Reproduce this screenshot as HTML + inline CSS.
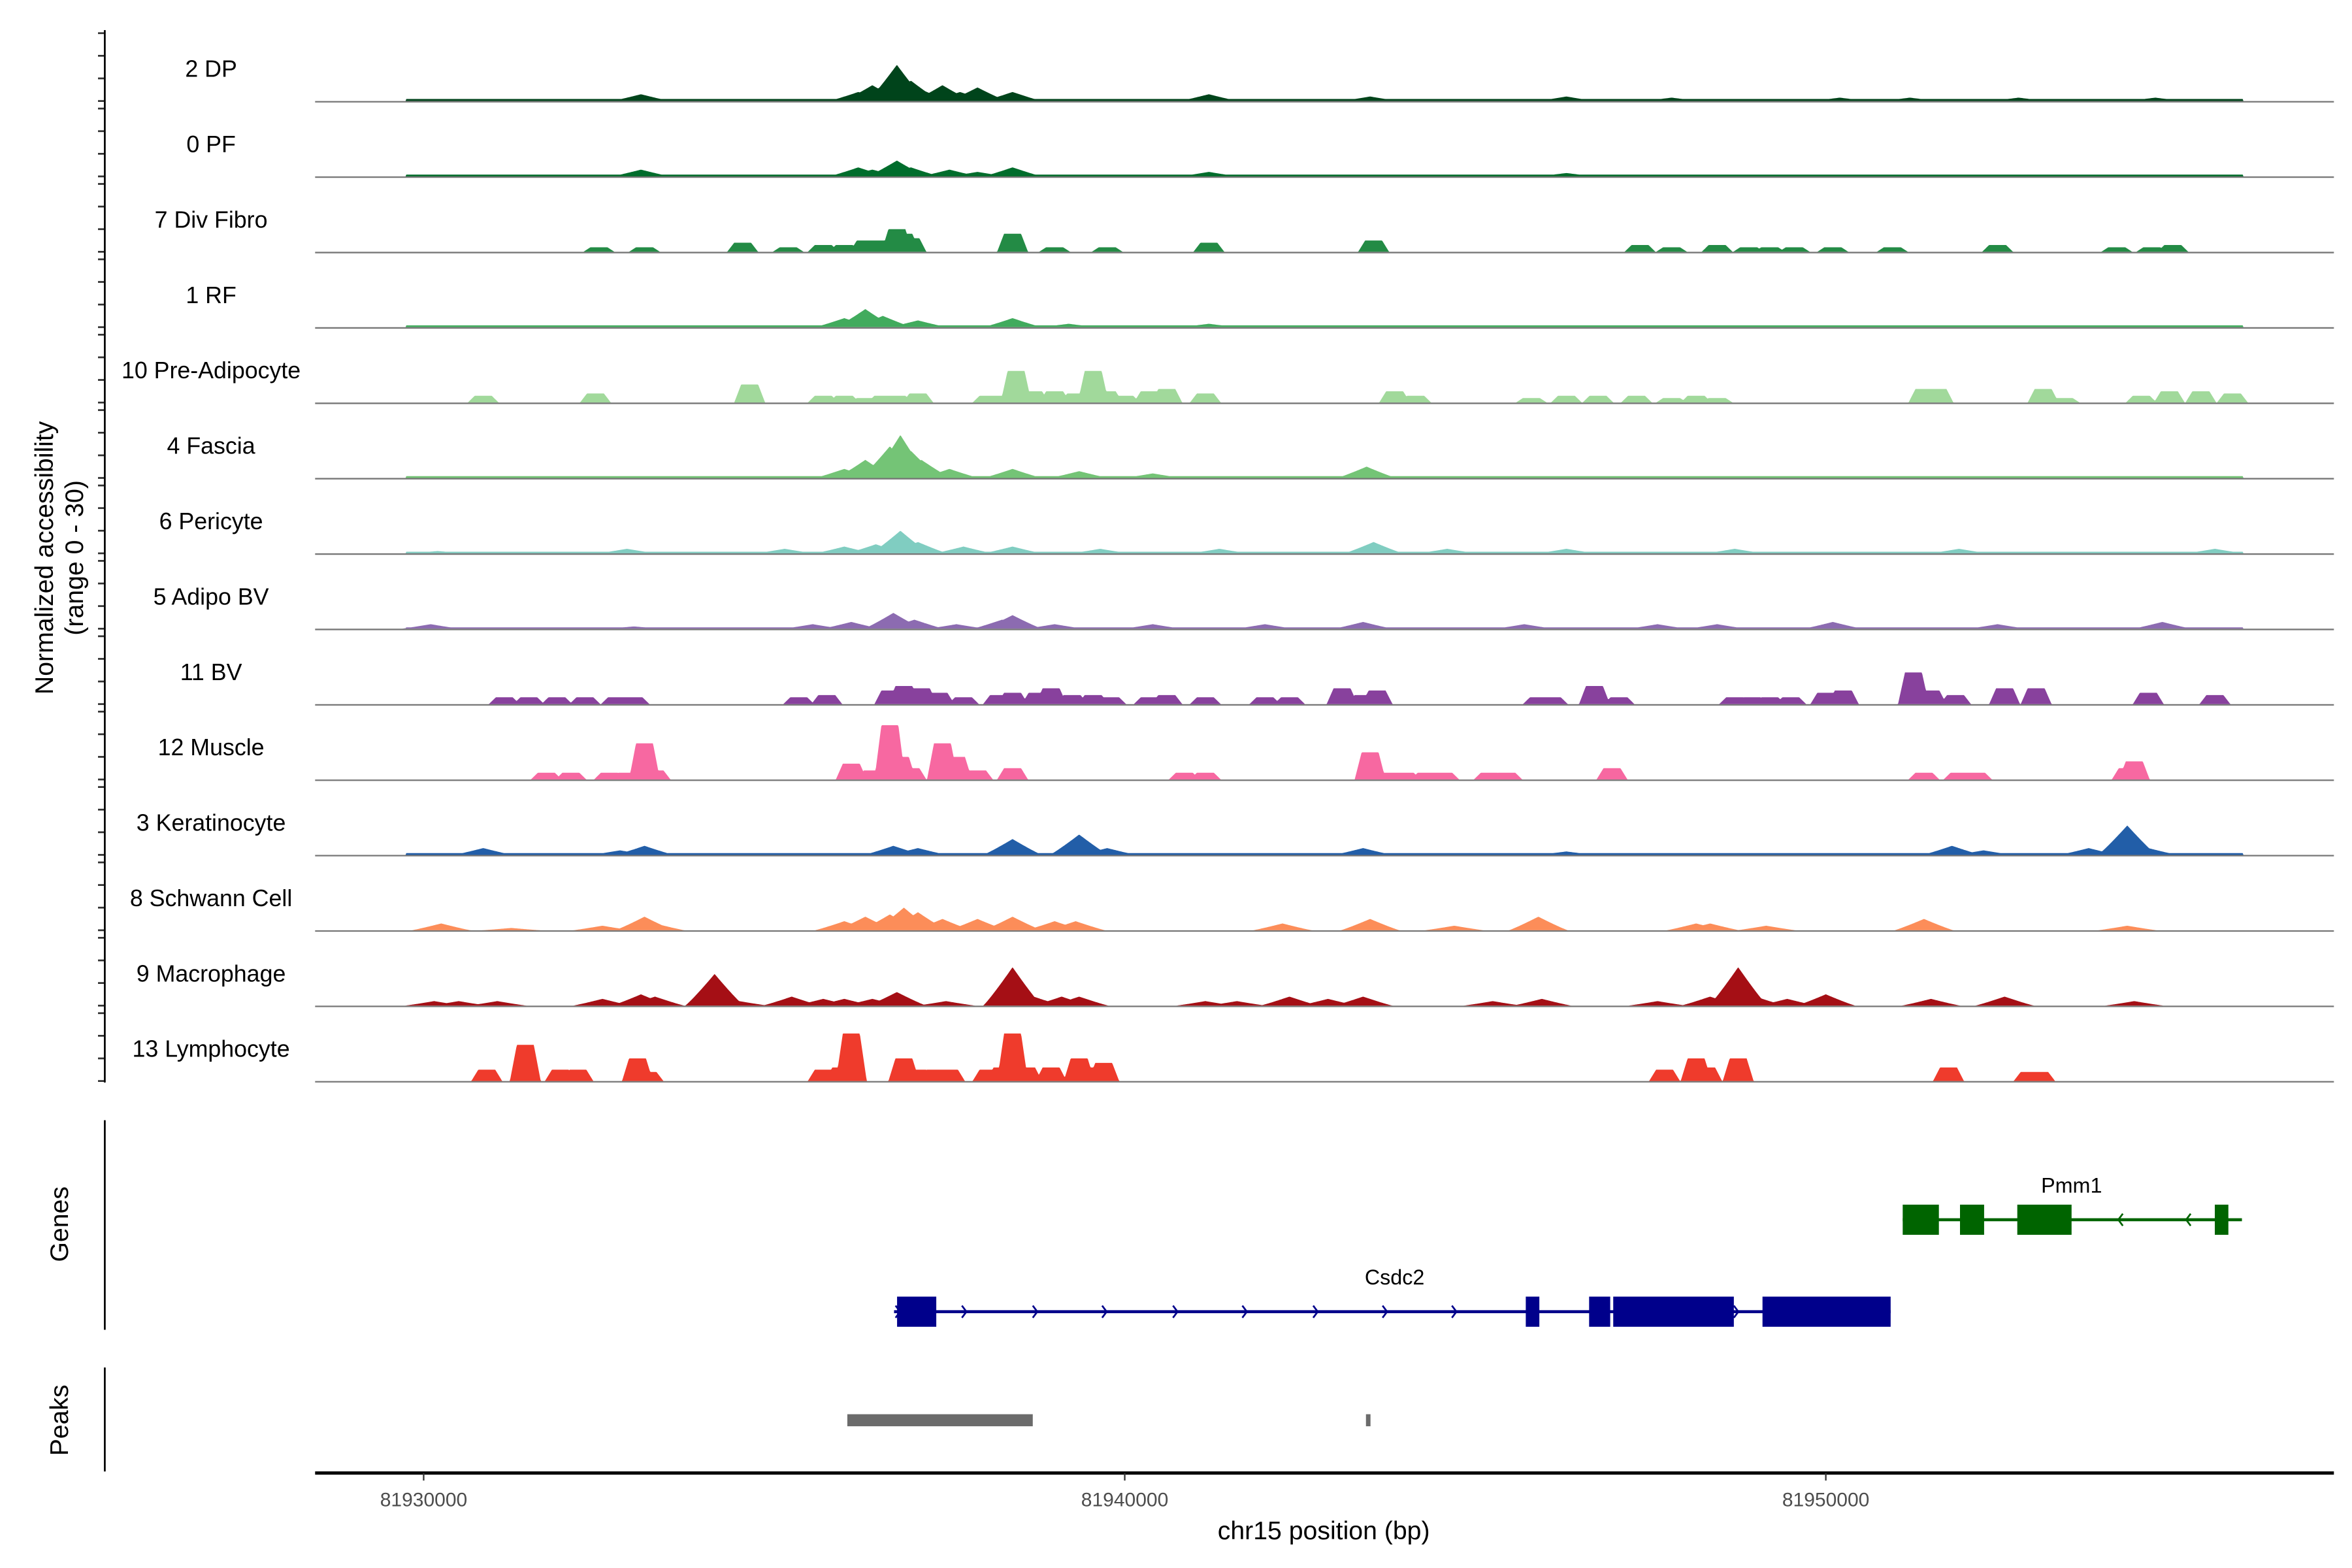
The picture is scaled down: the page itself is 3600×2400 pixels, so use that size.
<!DOCTYPE html>
<html><head><meta charset="utf-8"><style>html,body{margin:0;padding:0;background:#fff}svg{display:block}text{font-family:"Liberation Sans",sans-serif}</style></head>
<body>
<svg id="chart" xmlns="http://www.w3.org/2000/svg" width="3600" height="2400" viewBox="0 0 1560 1040">
<g id="tracks"></g>
<g id="yaxis"></g>
<text transform="translate(35,370) rotate(-90)" text-anchor="middle" font-size="17">Normalized accessibility</text>
<text transform="translate(55,370) rotate(-90)" text-anchor="middle" font-size="17">(range 0 - 30)</text>
<line x1="69.5" y1="743" x2="69.5" y2="882" stroke="#000" stroke-width="1.2"/>
<text transform="translate(45,812) rotate(-90)" text-anchor="middle" font-size="17">Genes</text>
<line x1="69.5" y1="907" x2="69.5" y2="976" stroke="#000" stroke-width="1.2"/>
<text transform="translate(45,942) rotate(-90)" text-anchor="middle" font-size="17">Peaks</text>
<g id="genes"></g>
<g id="peaks"></g>
<g id="xaxis"></g>
<text x="878" y="1021" text-anchor="middle" font-size="17">chr15 position (bp)</text>
</svg>
<script>
// positions in kb from 81930000; heights in accessibility units (0-30)
const trackNames = ["2 DP","0 PF","7 Div Fibro","1 RF","10 Pre-Adipocyte","4 Fascia","6 Pericyte","5 Adipo BV","11 BV","12 Muscle","3 Keratinocyte","8 Schwann Cell","9 Macrophage","13 Lymphocyte"];
const trackColors = ["#00441b","#006d2c","#238b45","#41ab5d","#a1d99b","#74c476","#80cdc1","#8c6bb1","#88419d","#f768a1","#225ea8","#fc8d59","#a50f15","#ef3b2c"];
const trackBackground = [0.9,0.8,0,0.8,0,0.8,0.7,0.6,0,0,0.8,0,0,0];
const peaksDP = [[3.1,3],[6.2,4],[6.4,7],[6.6,8],[6.75,16],[6.95,9],[7.1,5],[7.4,7],[7.65,4],[7.9,6],[8.4,4],[11.2,3],[13.5,2],[16.3,2],[17.8,1.5],[20.2,1.5],[21.2,1.5],[22.75,1.5],[24.7,1.5]];
const peaksPF = [[3.1,3],[6.2,4],[6.4,3],[6.75,7],[6.95,4],[7.5,3],[7.9,2],[8.4,4],[11.2,2],[16.3,1.5]];
const peaksDiv = [[2.5,2],[3.15,2],[4.55,4],[5.2,2],[5.7,3],[6.0,3],[6.3,5],[6.55,5],[6.75,10],[6.85,8],[6.95,6],[8.4,8],[9.0,2],[9.75,2],[11.2,4],[13.55,5],[17.35,3],[17.8,2],[18.45,3],[18.9,2],[19.2,2],[19.55,2],[20.1,2],[20.95,2],[22.45,3],[24.15,2],[24.65,2],[24.95,3]];
const peaksRF = [[6.0,4],[6.3,8],[6.55,5],[7.05,3],[8.4,4],[9.2,1.5],[11.2,1.5]];
const peaksPre = [[0.85,3],[2.45,4],[4.65,8],[5.7,3],[6.0,3],[6.3,2],[6.55,3],[6.75,3],[7.05,4],[8.05,3],[8.25,3],[8.45,14],[8.7,5],[9.0,5],[9.3,4],[9.55,14],[9.75,5],[10.0,3],[10.35,5],[10.6,6],[11.15,4],[13.85,5],[14.15,3],[15.8,2],[16.3,3],[16.75,3],[17.3,3],[17.8,2],[18.15,3],[18.45,2],[21.4,6],[21.6,6],[23.1,6],[23.4,2],[24.5,3],[24.9,5],[25.35,5],[25.8,4]];
const peaksFascia = [[6.0,4],[6.3,8],[6.65,14],[6.8,19],[6.95,12],[7.1,8],[7.5,4],[8.4,4],[9.35,3],[10.4,2],[13.45,5]];
const peaksPeri = [[0.2,1],[2.9,2],[5.15,2],[6.0,3],[6.45,4],[6.8,10],[7.05,5],[7.7,3],[8.4,3],[9.65,2],[11.35,2],[13.55,5],[14.6,2],[16.3,2],[18.7,2],[21.9,2],[25.55,2]];
const peaksAdipo = [[0.1,2],[3.0,1],[5.55,2],[6.1,3],[6.7,7],[7.0,4],[7.6,2],[8.25,4],[8.4,6],[9.0,2],[10.4,2],[12.0,2],[13.4,3],[15.7,2],[17.6,2],[18.45,2],[20.1,3],[22.45,2],[24.8,3]];
const peaksBV = [[1.15,3],[1.5,3],[1.9,3],[2.3,3],[2.75,3],[3.0,3],[5.35,3],[5.75,4],[6.65,6],[6.85,8],[7.1,7],[7.35,5],[7.7,3],[8.2,4],[8.4,5],[8.75,5],[8.95,7],[9.25,4],[9.55,4],[9.8,3],[10.35,3],[10.6,4],[11.15,3],[12.0,3],[12.35,3],[13.1,7],[13.4,4],[13.6,6],[15.9,3],[16.1,3],[16.7,8],[17.05,3],[18.7,3],[18.95,3],[19.2,3],[19.5,3],[20.0,5],[20.25,6],[21.25,14],[21.5,6],[21.85,4],[22.55,7],[23.0,7],[24.6,5],[25.55,4]];
const peaksMuscle = [[1.75,3],[2.1,3],[2.65,3],[2.9,3],[3.15,16],[3.3,4],[6.1,7],[6.4,4],[6.65,24],[6.8,10],[6.95,5],[7.4,16],[7.6,10],[7.9,4],[8.4,5],[10.85,3],[11.15,3],[13.5,12],[13.75,3],[14.0,3],[14.3,3],[14.55,3],[15.2,3],[15.45,3],[16.95,5],[21.4,3],[21.9,3],[22.15,3],[24.3,5],[24.4,8]];
const peaksKera = [[0.85,3],[2.8,2],[3.15,4],[6.7,4],[7.05,3],[8.4,7],[9.35,9],[9.75,3],[13.4,3],[16.3,1.5],[21.8,4],[22.25,2],[23.75,3],[24.3,13],[24.6,3]];
const peaksSchwann = [[0.25,3],[1.25,1],[2.55,2],[3.15,6],[3.3,3],[6.0,4],[6.3,6],[6.65,7],[6.85,10],[7.05,8],[7.4,5],[7.9,5],[8.4,6],[9.0,4],[9.3,4],[12.25,3],[13.5,5],[14.7,2],[15.9,6],[18.15,3],[18.35,3],[19.15,2],[21.4,5],[24.3,2]];
const peaksMacro = [[0.15,2],[0.5,2],[1.05,2],[2.55,3],[3.1,5],[3.3,4],[4.15,14],[4.5,2],[5.25,4],[5.7,3],[6.0,3],[6.4,3],[6.75,6],[7.45,2],[8.4,17],[8.7,4],[9.1,4],[9.35,4],[11.15,2],[11.6,2],[12.35,4],[12.9,3],[13.4,4],[15.25,2],[15.95,3],[17.6,2],[18.35,4],[18.75,17],[19.0,4],[19.45,3],[20.0,5],[21.5,3],[22.55,4],[24.4,2]];
const peaksLympho = [[0.9,5],[1.45,16],[1.95,5],[2.2,5],[3.05,10],[3.2,4],[5.7,5],[5.95,6],[6.1,21],[6.85,10],[7.05,5],[7.3,5],[7.5,5],[8.05,5],[8.25,6],[8.4,21],[8.6,6],[8.95,6],[9.35,10],[9.55,6],[9.7,8],[17.7,5],[18.15,10],[18.3,6],[18.75,10],[21.75,6],[22.9,4],[23.05,4]];
const trackPeaks = [peaksDP,peaksPF,peaksDiv,peaksRF,peaksPre,peaksFascia,peaksPeri,peaksAdipo,peaksBV,peaksMuscle,peaksKera,peaksSchwann,peaksMacro,peaksLympho];
const xTicks = [0,10000,20000];
const xTickLabels = ["81930000","81940000","81950000"];

const NS="http://www.w3.org/2000/svg";
const X0=281, PXKB=46.5, LEFT=209, RIGHT=1548, PXU=1.5;
const xBp = bp => X0 + bp/1000*PXKB;
function mk(tag, attrs, parent){const e=document.createElementNS(NS,tag);for(const k in attrs)e.setAttribute(k,attrs[k]);parent.appendChild(e);return e;}
const blocky=[2,4,8,9,13];
const tracksG=document.getElementById('tracks');
trackNames.forEach((name,i)=>{
  const base=67+i*50;
  const g=mk('g',{},tracksG);
  
  
  const t=mk('text',{x:140,y:base-16,'text-anchor':'middle','font-size':15.5},g);
  
  
  t.textContent=name;
  const peaks=trackPeaks[i], bg=trackBackground[i], isBlock=blocky.includes(i);
  const hw = isBlock?0.22:0.42;
  let d='M'+LEFT+','+base;
  for(let x=LEFT;x<=RIGHT;x+=0.5){
    const kb=(x-X0)/PXKB;
    let v=0;
    if(bg>0 && kb>-0.25 && kb<25.95) v=bg;
    for(const p of peaks){
      const dist=Math.abs(kb-p[0]);
      let y;
      if(isBlock) y = dist<hw*0.55?p[1]:(dist<hw?p[1]*(hw-dist)/(hw*0.45):0);
      else y = dist<hw? p[1]*Math.pow(1-dist/hw,1.1):0;
      if(y>v) v=y;
    }
    d+=' L'+x+','+(base-v*PXU).toFixed(2);
  }
  d+=' L'+RIGHT+','+base+' Z';
  const a=mk('path',{d:d,fill:trackColors[i]},g);
  
  
  const l=mk('line',{x1:LEFT,y1:base+0.5,x2:RIGHT,y2:base+0.5,stroke:'#777','stroke-width':1},g);
  
  
});
const ya=document.getElementById('yaxis');
mk('line',{x1:69.5,y1:20,x2:69.5,y2:718,stroke:'#000','stroke-width':1.2},ya);
for(let i=0;i<14;i++){for(let k=0;k<4;k++){const y=67+i*50-k*15;mk('line',{x1:65,y1:y,x2:69,y2:y,stroke:'#333','stroke-width':1.2},ya);}}

const genes=document.getElementById('genes');
function gene(name,color,y,x1,x2,exons,arrows,dir,lx){
  const g=mk('g',{},genes);
  
  
  mk('line',{x1:x1,y1:y,x2:x2,y2:y,stroke:color,'stroke-width':2},g);
  exons.forEach(e=>mk('rect',{x:e[0],y:y-10,width:e[1]-e[0],height:20,fill:color},g));
  arrows.forEach(a=>mk('polyline',{points:(a-3*dir)+','+(y-4)+' '+a+','+y+' '+(a-3*dir)+','+(y+4),fill:'none',stroke:color,'stroke-width':1.2},g));
  const t=mk('text',{x:lx,y:y-18,'text-anchor':'middle','font-size':14},g);
  t.textContent=name;
}
gene('Pmm1','#006400',809,1262,1487,[[1262,1286],[1300,1316],[1338,1374],[1469,1478]],[1405,1450],-1,1374);
gene('Csdc2','#00008b',870,593,1254,[[595,621],[1012,1021],[1054,1068],[1070,1150],[1169,1254]],[597,641,688,734,781,827,874,920,966,1018,1153],1,925);
const pk=document.getElementById('peaks');
mk('rect',{x:562,y:938,width:123,height:8,fill:'#6b6b6b'},pk);
mk('rect',{x:906,y:938,width:3,height:8,fill:'#6b6b6b'},pk);

const xa=document.getElementById('xaxis');
mk('line',{x1:LEFT,y1:977,x2:RIGHT,y2:977,stroke:'#000','stroke-width':2.2},xa);
xTicks.forEach((b,i)=>{
  mk('line',{x1:xBp(b),y1:977,x2:xBp(b),y2:982,stroke:'#333','stroke-width':1},xa);
  const t=mk('text',{x:xBp(b),y:999,'text-anchor':'middle','font-size':13,fill:'#4d4d4d'},xa);
  
  
  t.textContent=xTickLabels[i];
});
</script>
</body></html>
